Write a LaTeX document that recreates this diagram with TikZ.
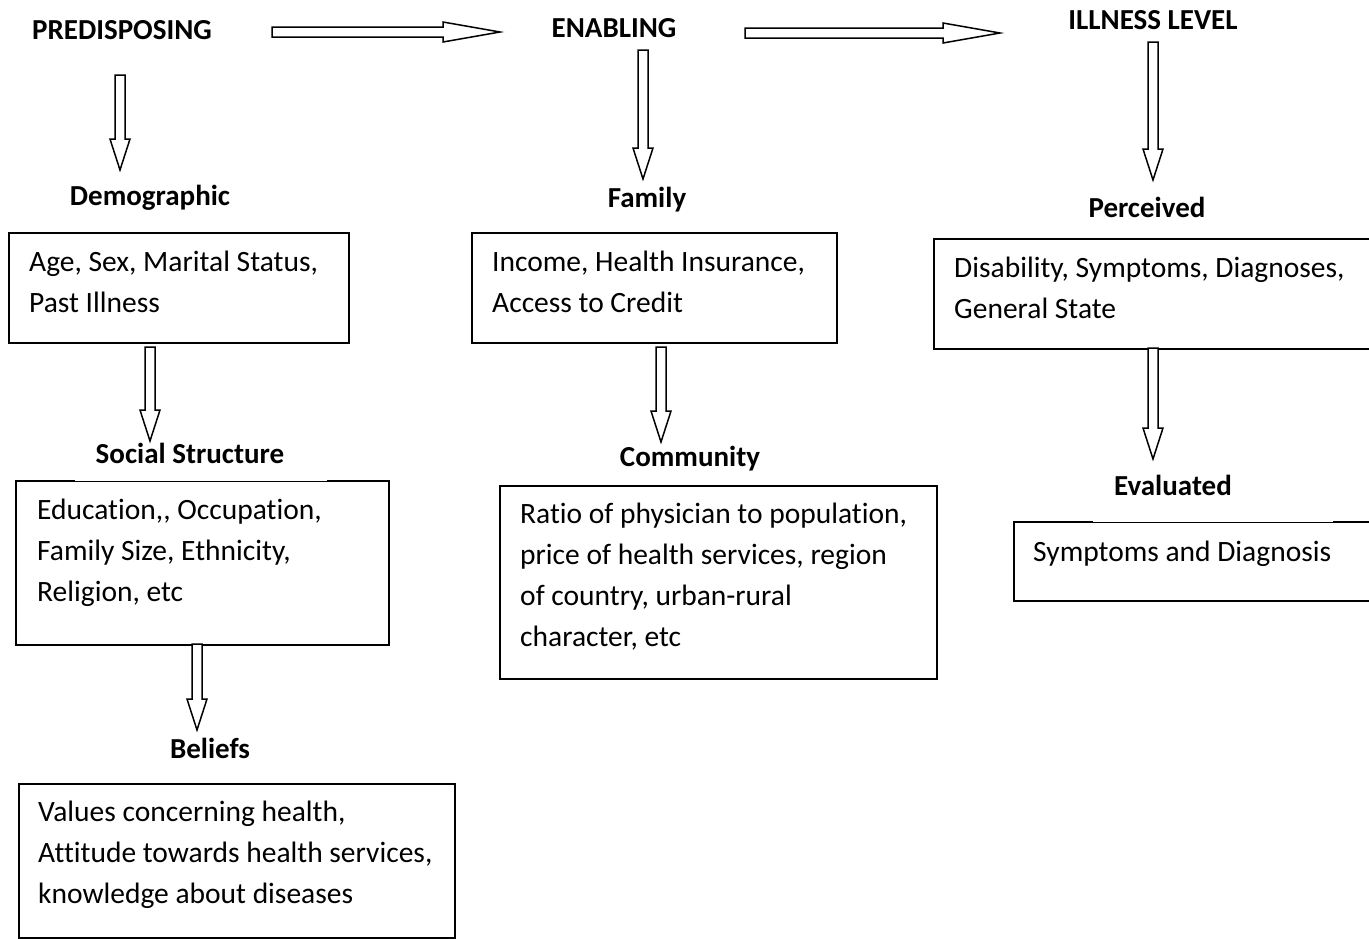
\documentclass[tikz,border=0pt]{standalone}
\usepackage{fontspec}
\setmainfont{Carlito}[Ligatures=NoCommon]
\usetikzlibrary{calc}
\tikzset{
  heading/.style={font=\fontsize{29}{35}\selectfont\bfseries, inner sep=0pt, anchor=base},
  boxframe/.style={draw=black, line width=1.6pt, rectangle, inner sep=0pt},
  boxtext/.style={font=\fontsize{29.5}{41}\selectfont, inner sep=0pt, anchor=base west, align=left},
  barrow/.style={draw=black, line width=1.5pt, fill=white, line join=miter, to path={
    let \p1=(\tikztostart), \p2=(\tikztotarget),
        \n1={atan2(\y2-\y1,\x2-\x1)}, \n2={veclen(\x2-\x1,\y2-\y1)} in
    ([shift={(\p1)},rotate=\n1]0pt,-5pt)
    -- ([shift={(\p1)},rotate=\n1]{\n2*1pt-#1},-5pt)
    -- ([shift={(\p1)},rotate=\n1]{\n2*1pt-#1},-10pt)
    -- ([shift={(\p1)},rotate=\n1]{\n2*1pt},0pt)
    -- ([shift={(\p1)},rotate=\n1]{\n2*1pt-#1},10pt)
    -- ([shift={(\p1)},rotate=\n1]{\n2*1pt-#1},5pt)
    -- ([shift={(\p1)},rotate=\n1]0pt,5pt) -- cycle
  }},
  barrow/.default=31pt,
}
\newcommand{\boxat}[5]{\node[boxframe, anchor=north west, minimum width={(#4-#2)*1pt}, minimum height={(#5-#3)*1pt}] (#1) at (#2,#3) {};}
\begin{document}
\begin{tikzpicture}[x=1pt,y=-1pt]
\useasboundingbox[fill=white] (0,0) rectangle (1369,938);

% headings
\node[heading] (hpre) at (122,39.5) {PREDISPOSING};
\node[heading] (hena) at (614,37.5) {ENABLING};
\node[heading] (hill) at (1153,29.5) {ILLNESS LEVEL};
\node[heading] (hdem) at (150,205.5) {Demographic};
\node[heading] (hfam) at (647,207.5) {Family};
\node[heading] (hper) at (1147,217.5) {Perceived};
\node[heading] (hsoc) at (190,463.5) {Social Structure};
\node[heading] (hcom) at (690,466.5) {Community};
\node[heading] (heva) at (1173,495.5) {Evaluated};
\node[heading] (hbel) at (210,758.5) {Beliefs};

% boxes
\boxat{bdem}{8}{232}{348}{342}
\boxat{bfam}{471}{232}{836}{342}
\boxat{bper}{933}{238}{1370}{348}
\boxat{bsoc}{15}{480}{388}{644}
\boxat{bcom}{499}{485}{936}{678}
\boxat{beva}{1013}{521}{1370}{600}
\boxat{bbel}{18}{783}{454}{937}

% gaps in top borders
\draw[white, line width=2.4pt] (75,480) -- (327,480);
\draw[white, line width=2.4pt] (1093,521) -- (1333,521);

% box texts (anchored at the baseline of the last line)
\node[boxtext] (tdem) at (29,312.5) {Age, Sex, Marital Status,\\Past Illness};
\node[boxtext] (tfam) at (492,312.5) {Income, Health Insurance,\\Access to Credit};
\node[boxtext] (tper) at (954,318.5) {Disability, Symptoms, Diagnoses,\\General State};
\node[boxtext] (tsoc) at (37,601.5) {Education,{}, Occupation,\\Family Size, Ethnicity,\\Religion, etc};
\node[boxtext] (tcom) at (520,646.5) {Ratio of physician to population,\\price of health services, region\\of country, urban-rural\\character, etc};
\node[boxtext] (teva) at (1033,561.5) {Symptoms and Diagnosis};
\node[boxtext] (tbel) at (38,903.5) {Values concerning health,\\Attitude towards health services,\\knowledge about diseases};

% arrow end points
\coordinate (h1s) at (272,32);  \coordinate (h1e) at (500,32);
\coordinate (h2s) at (745,33);  \coordinate (h2e) at (1000,33);
\coordinate (a1s) at (120,75);  \coordinate (a1e) at (120,170);
\coordinate (a2s) at (643,50);  \coordinate (a2e) at (643,179);
\coordinate (a3s) at (1153,42); \coordinate (a3e) at (1153,180);
\coordinate (a4s) at (150,347); \coordinate (a4e) at (150,441);
\coordinate (a5s) at (661,347); \coordinate (a5e) at (661,442);
\coordinate (a6s) at (1153,348);\coordinate (a6e) at (1153,459);
\coordinate (a7s) at (197,644); \coordinate (a7e) at (197,730);

\draw[barrow=57pt] (h1s) to (h1e);
\draw[barrow=57pt] (h2s) to (h2e);
\draw[barrow] (a1s) to (a1e);
\draw[barrow] (a2s) to (a2e);
\draw[barrow] (a3s) to (a3e);
\draw[barrow] (a4s) to (a4e);
\draw[barrow] (a5s) to (a5e);
\draw[barrow] (a6s) to (a6e);
\draw[barrow] (a7s) to (a7e);
\end{tikzpicture}
\end{document}
